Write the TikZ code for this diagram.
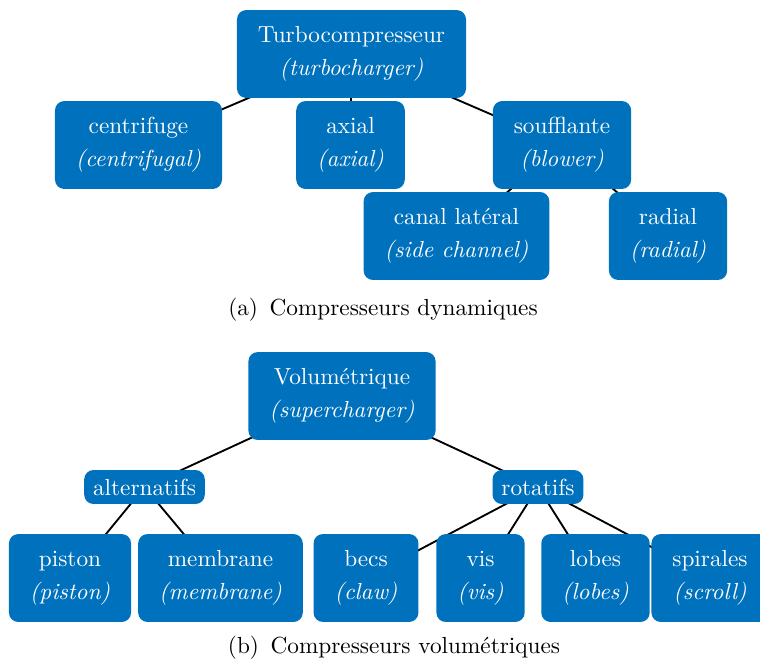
\documentclass[tikz,border=0pt]{standalone}
\usetikzlibrary{backgrounds}
\definecolor{compblue}{RGB}{0,113,188}

\begin{document}
\begin{tikzpicture}[
x=0.43pt, y=-0.43pt,
    B/.style = {rectangle, rounded corners=4pt, fill=compblue,% boxes of the tree
                text=white, align=center, inner xsep=9pt,
                font=\fontsize{10}{12}\selectfont, minimum height=37.8pt},
    S/.style = {B, inner xsep=3.8pt, minimum height=14.6pt},
    C/.style = {font=\fontsize{10}{12}\selectfont},% captions
                        ]
\useasboundingbox (0,0) rectangle (760,664);
% (a) dynamic
\node[B] (turbo)  at (351.5,54) {Turbocompresseur\\[2.2pt]\textit{(turbocharger)}};
\node[B] (centri) at (138.5,145) {centrifuge\\[2.2pt]\textit{(centrifugal)}};
\node[B] (axial)  at (350.5,145) {axial\\[2.2pt]\textit{(axial)}};
\node[B] (souff)  at (562,145) {soufflante\\[2.2pt]\textit{(blower)}};
\node[B] (canal)  at (456.5,236) {canal latéral\\[2.2pt]\textit{(side channel)}};
\node[B] (radial) at (668,236) {radial\\[2.2pt]\textit{(radial)}};
\node[C] (capa) at (383,310) {(a)\enspace Compresseurs dynamiques};
% (b) positive displacement
\node[B] (vol)    at (342,396) {Volumétrique\\[2.2pt]\textit{(supercharger)}};
\node[S] (alt)    at (144.5,487) {alternatifs};
\node[S] (rot)    at (538,487) {rotatifs};
\node[B] (piston) at (70,578) {piston\\[2.2pt]\textit{(piston)}};
\node[B] (membr)  at (220.5,578) {membrane\\[2.2pt]\textit{(membrane)}};
\node[B] (becs)   at (366,578) {becs\\[2.2pt]\textit{(claw)}};
\node[B] (vis)    at (480.5,578) {vis\\[2.2pt]\textit{(vis)}};
\node[B] (lobes)  at (595.5,578) {lobes\\[2.2pt]\textit{(lobes)}};
\node[B] (spir)   at (710,578) {spirales\\[2.2pt]\textit{(scroll)}};
\node[C] (capb) at (394,648) {(b)\enspace Compresseurs volumétriques};
% links behind the boxes
\begin{scope}[on background layer]
\foreach \a/\b in {turbo/centri,turbo/axial,turbo/souff,souff/canal,souff/radial,
                   vol/alt,vol/rot,alt/piston,alt/membr,
                   rot/becs,rot/vis,rot/lobes,rot/spir}
    \draw[thick] (\a.center) -- (\b.center);
\end{scope}
\end{tikzpicture}
\end{document}
